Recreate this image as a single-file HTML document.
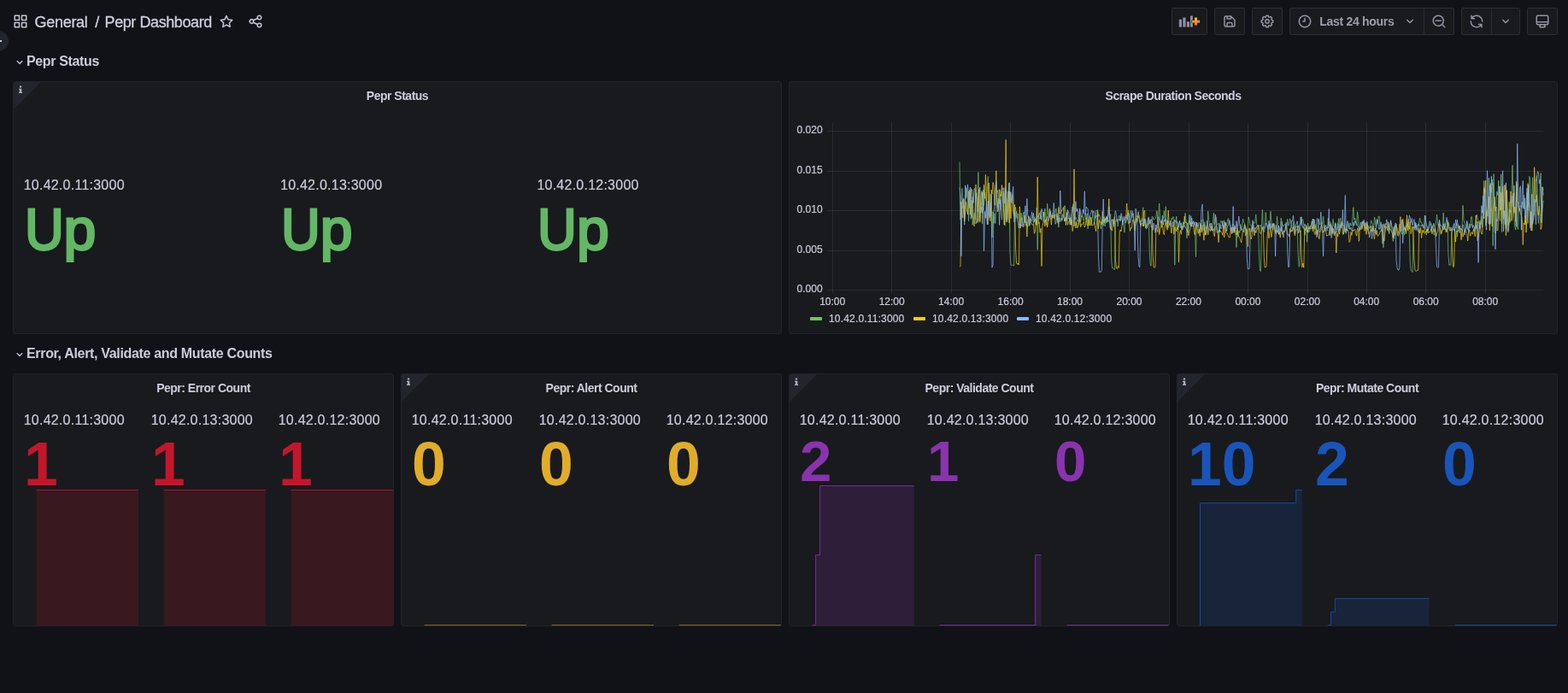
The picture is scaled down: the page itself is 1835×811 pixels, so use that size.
<!DOCTYPE html>
<html><head><meta charset="utf-8"><title>Pepr Dashboard - Grafana</title><style>
html,body{margin:0;padding:0;}
body{background:#111217;width:1835px;height:811px;overflow:hidden;position:relative;font-family:"Liberation Sans",sans-serif;color:#ccccdc;}
.a{position:absolute;white-space:nowrap;line-height:1;}
.panel{position:absolute;background:#181a1e;border:1px solid #222429;border-radius:3px;box-sizing:border-box;overflow:hidden;}
.ptitle{position:absolute;left:0;right:0;top:8px;text-align:center;font-size:14px;font-weight:bold;line-height:16px;color:#ccccdc;letter-spacing:-0.5px;}
.corner{position:absolute;left:0;top:0;width:0;height:0;border-top:32px solid #22252b;border-right:32px solid transparent;}
.ci{position:absolute;left:6px;top:3px;font-family:"Liberation Serif",serif;font-weight:bold;font-size:10px;line-height:10px;color:#b8b8c8;}
.btn{position:absolute;top:9px;height:32px;background:#181a1e;border:1px solid #2a2d33;border-radius:2px;box-sizing:border-box;}
.lbl{position:absolute;font-size:16px;line-height:16px;color:#ccccdc;white-space:nowrap;letter-spacing:0.24px;-webkit-text-stroke:0.2px #ccccdc;}
.val{position:absolute;font-weight:bold;white-space:nowrap;}
.rowt{position:absolute;font-size:16px;font-weight:bold;line-height:18px;color:#ccccdc;white-space:nowrap;letter-spacing:-0.36px;}
.ax{position:absolute;font-size:12px;line-height:12px;color:#ccccdc;white-space:nowrap;-webkit-text-stroke:0.2px #ccccdc;}
svg{position:absolute;overflow:visible;}
</style></head><body><div id="root" style="position:absolute;left:0;top:0;width:1835px;height:811px;will-change:transform;">
<div class="a" style="left:-14px;top:36px;width:24px;height:24px;border-radius:50%;background:#22252b;"></div>
<div class="a" style="left:0;top:46.5px;width:1.5px;height:2px;background:#ccccdc;"></div>
<svg style="left:15px;top:16px" width="18" height="18" viewBox="0 0 24 24"><path fill="#c4c4d4" d="M10,13H3a1,1,0,0,0-1,1v7a1,1,0,0,0,1,1h7a1,1,0,0,0,1-1V14A1,1,0,0,0,10,13ZM9,20H4V15H9ZM21,2H14a1,1,0,0,0-1,1v7a1,1,0,0,0,1,1h7a1,1,0,0,0,1-1V3A1,1,0,0,0,21,2ZM20,9H15V4h5Zm1,4H14a1,1,0,0,0-1,1v7a1,1,0,0,0,1,1h7a1,1,0,0,0,1-1V14A1,1,0,0,0,21,13Zm-1,7H15V15h5ZM10,2H3A1,1,0,0,0,2,3v7a1,1,0,0,0,1,1h7a1,1,0,0,0,1-1V3A1,1,0,0,0,10,2ZM9,9H4V4H9Z"/></svg>
<div class="a" id="t1" style="left:40.6px;top:15.8px;font-size:18px;line-height:21px;color:#cfcfdf;-webkit-text-stroke:0.3px #cfcfdf;letter-spacing:-0.3px;">General</div>
<div class="a" id="t2" style="left:111.2px;top:15.8px;font-size:18px;line-height:21px;color:#cfcfdf;-webkit-text-stroke:0.3px #cfcfdf;">/</div>
<div class="a" id="t3" style="left:122.6px;top:15.8px;font-size:18px;line-height:21px;color:#cfcfdf;-webkit-text-stroke:0.3px #cfcfdf;letter-spacing:-0.42px;">Pepr Dashboard</div>
<svg style="left:256px;top:16px" width="18" height="18" viewBox="0 0 24 24"><path fill="#c4c4d4" d="M22,9.67A1,1,0,0,0,21.14,9l-5.69-.83L12.9,3a1,1,0,0,0-1.8,0L8.55,8.16,2.86,9a1,1,0,0,0-.81.68,1,1,0,0,0,.25,1l4.13,4-1,5.68A1,1,0,0,0,6.9,21.44L12,18.77l5.1,2.67a.93.93,0,0,0,.46.12,1,1,0,0,0,.59-.19,1,1,0,0,0,.4-1l-1-5.68,4.13-4A1,1,0,0,0,22,9.67Zm-6.15,4a1,1,0,0,0-.29.88l.72,4.2-3.76-2a1.06,1.06,0,0,0-.94,0l-3.76,2,.72-4.2a1,1,0,0,0-.29-.88l-3-3,4.21-.61a1,1,0,0,0,.76-.55L12,5.7l1.88,3.82a1,1,0,0,0,.76.55l4.21.61Z"/></svg>
<svg style="left:290.3px;top:16px" width="18" height="18" viewBox="0 0 24 24"><path fill="#c4c4d4" d="M18,14a4,4,0,0,0-3.08,1.48l-5.1-2.35a3.64,3.64,0,0,0,0-2.26l5.1-2.35A4,4,0,1,0,14,6a4.17,4.17,0,0,0,.07.71L8.79,9.14a4,4,0,1,0,0,5.72l5.28,2.43A4.17,4.17,0,0,0,14,18a4,4,0,1,0,4-4ZM18,4a2,2,0,1,1-2,2A2,2,0,0,1,18,4ZM6,14a2,2,0,1,1,2-2A2,2,0,0,1,6,14Zm12,6a2,2,0,1,1,2-2A2,2,0,0,1,18,20Z"/></svg>
<div class="btn" style="left:1371px;width:42px;"></div>
<div class="btn" style="left:1421px;width:36px;"></div>
<div class="btn" style="left:1465px;width:36px;"></div>
<div class="btn" style="left:1509px;width:158px;border-radius:2px 0 0 2px;"></div>
<div class="btn" style="left:1666px;width:36px;border-radius:0 2px 2px 0;"></div>
<div class="btn" style="left:1710px;width:36px;border-radius:2px 0 0 2px;"></div>
<div class="btn" style="left:1745px;width:34px;border-radius:0 2px 2px 0;"></div>
<div class="btn" style="left:1787px;width:36px;"></div>
<svg style="left:1379px;top:17px" width="22" height="16" viewBox="0 0 22 16">
<defs><linearGradient id="pg" x1="0" y1="0" x2="0" y2="1"><stop offset="0" stop-color="#FBC02E"/><stop offset="1" stop-color="#F0642A"/></linearGradient></defs>
<rect x="0.8" y="5.8" width="3.2" height="8.8" fill="#8e8e9e"/><rect x="5.3" y="3.5" width="3.3" height="11.1" fill="#8e8e9e"/>
<rect x="9.9" y="8.3" width="3.1" height="6.3" fill="#8e8e9e"/><rect x="14" y="1.5" width="2.9" height="13.1" fill="#8e8e9e"/>
<path d="M19.1 2.8h3v3.2h3.1v3h-3.1v3.1h-3v-3.1h-3.1v-3h3.1z" transform="translate(-0.1,0.7)" fill="#181a1e" stroke="#181a1e" stroke-width="0.9"/>
<path d="M19.1 2.8h3v3.2h3.1v3h-3.1v3.1h-3v-3.1h-3.1v-3h3.1z" transform="translate(-0.1,0.7)" fill="url(#pg)"/>
</svg>
<svg style="left:1430px;top:16px" width="18" height="18" viewBox="0 0 24 24"><path fill="#9394a3" d="M20.71,9.29l-6-6a1,1,0,0,0-.32-.21A1.09,1.09,0,0,0,14,3H6A3,3,0,0,0,3,6V18a3,3,0,0,0,3,3H18a3,3,0,0,0,3-3V10A1,1,0,0,0,20.71,9.29ZM9,5h4V7H9Zm6,14H9V16a1,1,0,0,1,1-1h4a1,1,0,0,1,1,1Zm4-1a1,1,0,0,1-1,1H17V16a3,3,0,0,0-3-3H10a3,3,0,0,0-3,3v3H6a1,1,0,0,1-1-1V6A1,1,0,0,1,6,5H7V8A1,1,0,0,0,8,9h6a1,1,0,0,0,1-1V6.41l4,4Z"/></svg>
<svg style="left:1474px;top:16px" width="18" height="18" viewBox="0 0 24 24"><path fill="#9394a3" d="M21.32,9.55l-1.89-.63.89-1.78A1,1,0,0,0,20.13,6L18,3.87a1,1,0,0,0-1.15-.19l-1.78.89-.63-1.89A1,1,0,0,0,13.5,2h-3a1,1,0,0,0-.95.68L8.92,4.57,7.14,3.68A1,1,0,0,0,6,3.87L3.87,6a1,1,0,0,0-.19,1.15l.89,1.78-1.89.63A1,1,0,0,0,2,10.5v3a1,1,0,0,0,.68.95l1.89.63-.89,1.78A1,1,0,0,0,3.87,18L6,20.13a1,1,0,0,0,1.15.19l1.78-.89.63,1.89a1,1,0,0,0,.95.68h3a1,1,0,0,0,.95-.68l.63-1.89,1.78.89A1,1,0,0,0,18,20.13L20.13,18a1,1,0,0,0,.19-1.15l-.89-1.78,1.89-.63A1,1,0,0,0,22,13.5v-3A1,1,0,0,0,21.32,9.55ZM20,12.78l-1.2.4A2,2,0,0,0,17.64,16l.57,1.14-1.1,1.1L16,17.64a2,2,0,0,0-2.79,1.16l-.4,1.2H11.22l-.4-1.2A2,2,0,0,0,8,17.64l-1.14.57-1.1-1.1L6.36,16A2,2,0,0,0,5.2,13.18L4,12.78V11.22l1.2-.4A2,2,0,0,0,6.36,8L5.79,6.89l1.1-1.1L8,6.36A2,2,0,0,0,10.82,5.2l.4-1.2h1.56l.4,1.2A2,2,0,0,0,16,6.36l1.14-.57,1.1,1.1L17.64,8a2,2,0,0,0,1.16,2.79l1.2.4ZM12,8a4,4,0,1,0,4,4A4,4,0,0,0,12,8Zm0,6a2,2,0,1,1,2-2A2,2,0,0,1,12,14Z"/></svg>
<svg style="left:1518px;top:16px" width="18" height="18" viewBox="0 0 24 24"><path fill="#9394a3" d="M12,2A10,10,0,1,0,22,12,10.01,10.01,0,0,0,12,2Zm0,18a8,8,0,1,1,8-8A8.01,8.01,0,0,1,12,20ZM12,6a1,1,0,0,0-1,1v4H9a1,1,0,0,0,0,2h3a1,1,0,0,0,1-1V7A1,1,0,0,0,12,6Z"/></svg>
<div class="a" id="tp" style="left:1544.3px;top:17.2px;font-size:14px;line-height:16px;font-weight:bold;color:#9b9cab;letter-spacing:-0.3px;">Last 24 hours</div>
<svg style="left:1641.2px;top:16.2px" width="18" height="18" viewBox="0 0 24 24"><path fill="#9394a3" d="M17,9.17a1,1,0,0,0-1.41,0L12,12.71,8.46,9.17a1,1,0,0,0-1.41,0,1,1,0,0,0,0,1.42l4.24,4.24a1,1,0,0,0,1.42,0L17,10.59A1,1,0,0,0,17,9.17Z"/></svg>
<svg style="left:1675px;top:16px" width="18" height="18" viewBox="0 0 24 24"><path fill="#9394a3" d="M21.71,20.29,18,16.61A9,9,0,1,0,16.61,18l3.68,3.68a1,1,0,0,0,1.42,0A1,1,0,0,0,21.71,20.29ZM11,18a7,7,0,1,1,7-7A7,7,0,0,1,11,18Zm4-8H7a1,1,0,0,0,0,2h8a1,1,0,0,0,0-2Z"/></svg>
<svg style="left:1718.9px;top:16px" width="18" height="18" viewBox="0 0 24 24"><path fill="#9394a3" d="M19.91,15.51H15.38a1,1,0,0,0,0,2h2.4A8,8,0,0,1,4,12a1,1,0,0,0-2,0,10,10,0,0,0,16.88,7.23V21a1,1,0,0,0,2,0V16.5A1,1,0,0,0,19.91,15.51ZM12,2A10,10,0,0,0,5.12,4.77V3a1,1,0,0,0-2,0V7.5a1,1,0,0,0,1,1h4.5a1,1,0,0,0,0-2H6.22A8,8,0,0,1,20,12a1,1,0,0,0,2,0A10,10,0,0,0,12,2Z"/></svg>
<svg style="left:1753px;top:16.2px" width="18" height="18" viewBox="0 0 24 24"><path fill="#9394a3" d="M17,9.17a1,1,0,0,0-1.41,0L12,12.71,8.46,9.17a1,1,0,0,0-1.41,0,1,1,0,0,0,0,1.42l4.24,4.24a1,1,0,0,0,1.42,0L17,10.59A1,1,0,0,0,17,9.17Z"/></svg>
<svg style="left:1796px;top:16px" width="18" height="18" viewBox="0 0 24 24"><path fill="#9394a3" d="M19,2H5A3,3,0,0,0,2,5V15a3,3,0,0,0,3,3H7.64l-.58,1a2,2,0,0,0,0,2,2,2,0,0,0,1.75,1h6.46A2,2,0,0,0,17,21a2,2,0,0,0,0-2l-.59-1H19a3,3,0,0,0,3-3V5A3,3,0,0,0,19,2ZM8.77,20,10,18H14l1.2,2ZM20,15a1,1,0,0,1-1,1H5a1,1,0,0,1-1-1V14H20Zm0-3H4V5A1,1,0,0,1,5,4H19a1,1,0,0,1,1,1Z"/></svg>
<svg style="left:15px;top:65px" width="16" height="16" viewBox="0 0 24 24"><path fill="#c4c4d4" d="M17,9.17a1,1,0,0,0-1.41,0L12,12.71,8.46,9.17a1,1,0,0,0-1.41,0,1,1,0,0,0,0,1.42l4.24,4.24a1,1,0,0,0,1.42,0L17,10.59A1,1,0,0,0,17,9.17Z"/></svg>
<div class="rowt" id="r1" style="left:31px;top:63.3px;">Pepr Status</div>
<svg style="left:15px;top:407px" width="16" height="16" viewBox="0 0 24 24"><path fill="#c4c4d4" d="M17,9.17a1,1,0,0,0-1.41,0L12,12.71,8.46,9.17a1,1,0,0,0-1.41,0,1,1,0,0,0,0,1.42l4.24,4.24a1,1,0,0,0,1.42,0L17,10.59A1,1,0,0,0,17,9.17Z"/></svg>
<div class="rowt" id="r2" style="left:31px;top:405.3px;letter-spacing:-0.33px;">Error, Alert, Validate and Mutate Counts</div>
<div class="panel" style="left:15px;top:95px;width:900px;height:296px;"><div class="corner"></div><svg style="left:4px;top:4px" width="8" height="11" viewBox="0 0 8 11"><path fill="#aeaebe" d="M2.9,0.6h2.3v2h-2.3z M2,3.8h3.3v3.9h0.8v1.3h-4.2v-1.3h1.0v-2.7h-0.9z"/></svg><div class="ptitle">Pepr Status</div></div>
<div class="panel" style="left:923px;top:95px;width:900px;height:296px;"><div class="ptitle">Scrape Duration Seconds</div></div>
<div class="panel" style="left:15px;top:437px;width:446px;height:296px;"><div class="ptitle">Pepr: Error Count</div></div>
<div class="panel" style="left:469px;top:437px;width:446px;height:296px;"><div class="corner"></div><svg style="left:4px;top:4px" width="8" height="11" viewBox="0 0 8 11"><path fill="#aeaebe" d="M2.9,0.6h2.3v2h-2.3z M2,3.8h3.3v3.9h0.8v1.3h-4.2v-1.3h1.0v-2.7h-0.9z"/></svg><div class="ptitle">Pepr: Alert Count</div></div>
<div class="panel" style="left:923px;top:437px;width:446px;height:296px;"><div class="corner"></div><svg style="left:4px;top:4px" width="8" height="11" viewBox="0 0 8 11"><path fill="#aeaebe" d="M2.9,0.6h2.3v2h-2.3z M2,3.8h3.3v3.9h0.8v1.3h-4.2v-1.3h1.0v-2.7h-0.9z"/></svg><div class="ptitle">Pepr: Validate Count</div></div>
<div class="panel" style="left:1377px;top:437px;width:446px;height:296px;"><div class="corner"></div><svg style="left:4px;top:4px" width="8" height="11" viewBox="0 0 8 11"><path fill="#aeaebe" d="M2.9,0.6h2.3v2h-2.3z M2,3.8h3.3v3.9h0.8v1.3h-4.2v-1.3h1.0v-2.7h-0.9z"/></svg><div class="ptitle">Pepr: Mutate Count</div></div>
<div class="lbl" style="left:27.7px;top:209px;">10.42.0.11:3000</div>
<div class="a" style="left:28.60px;top:227.7px;font-size:68px;line-height:80px;font-weight:normal;color:#63b765;-webkit-text-stroke:2.8px #63b765;"><span style="display:inline-block;transform:scaleX(0.933);transform-origin:0 0;">U</span></div>
<div class="a" style="left:74.40px;top:228px;height:79.3px;overflow:hidden;padding:0 4px;margin-left:-4px;font-size:68px;line-height:80px;font-weight:normal;color:#63b765;-webkit-text-stroke:2.8px #63b765;">p</div>
<div class="lbl" style="left:328.0px;top:209px;">10.42.0.13:3000</div>
<div class="a" style="left:328.93px;top:227.7px;font-size:68px;line-height:80px;font-weight:normal;color:#63b765;-webkit-text-stroke:2.8px #63b765;"><span style="display:inline-block;transform:scaleX(0.933);transform-origin:0 0;">U</span></div>
<div class="a" style="left:374.73px;top:228px;height:79.3px;overflow:hidden;padding:0 4px;margin-left:-4px;font-size:68px;line-height:80px;font-weight:normal;color:#63b765;-webkit-text-stroke:2.8px #63b765;">p</div>
<div class="lbl" style="left:628.4px;top:209px;">10.42.0.12:3000</div>
<div class="a" style="left:629.26px;top:227.7px;font-size:68px;line-height:80px;font-weight:normal;color:#63b765;-webkit-text-stroke:2.8px #63b765;"><span style="display:inline-block;transform:scaleX(0.933);transform-origin:0 0;">U</span></div>
<div class="a" style="left:675.06px;top:228px;height:79.3px;overflow:hidden;padding:0 4px;margin-left:-4px;font-size:68px;line-height:80px;font-weight:normal;color:#63b765;-webkit-text-stroke:2.8px #63b765;">p</div>
<svg style="left:0;top:0" width="1835" height="811" viewBox="0 0 1835 811"><line x1="974.5" y1="144" x2="974.5" y2="343" stroke="rgba(204,204,220,0.1)" stroke-width="1"/>
<line x1="1043.5" y1="144" x2="1043.5" y2="343" stroke="rgba(204,204,220,0.1)" stroke-width="1"/>
<line x1="1113.5" y1="144" x2="1113.5" y2="343" stroke="rgba(204,204,220,0.1)" stroke-width="1"/>
<line x1="1182.5" y1="144" x2="1182.5" y2="343" stroke="rgba(204,204,220,0.1)" stroke-width="1"/>
<line x1="1252.5" y1="144" x2="1252.5" y2="343" stroke="rgba(204,204,220,0.1)" stroke-width="1"/>
<line x1="1321.5" y1="144" x2="1321.5" y2="343" stroke="rgba(204,204,220,0.1)" stroke-width="1"/>
<line x1="1391.5" y1="144" x2="1391.5" y2="343" stroke="rgba(204,204,220,0.1)" stroke-width="1"/>
<line x1="1460.5" y1="144" x2="1460.5" y2="343" stroke="rgba(204,204,220,0.1)" stroke-width="1"/>
<line x1="1530.5" y1="144" x2="1530.5" y2="343" stroke="rgba(204,204,220,0.1)" stroke-width="1"/>
<line x1="1599.5" y1="144" x2="1599.5" y2="343" stroke="rgba(204,204,220,0.1)" stroke-width="1"/>
<line x1="1668.5" y1="144" x2="1668.5" y2="343" stroke="rgba(204,204,220,0.1)" stroke-width="1"/>
<line x1="1738.5" y1="144" x2="1738.5" y2="343" stroke="rgba(204,204,220,0.1)" stroke-width="1"/>
<line x1="968" y1="153.5" x2="1806" y2="153.5" stroke="rgba(204,204,220,0.1)" stroke-width="1"/>
<line x1="968" y1="200.5" x2="1806" y2="200.5" stroke="rgba(204,204,220,0.1)" stroke-width="1"/>
<line x1="968" y1="246.5" x2="1806" y2="246.5" stroke="rgba(204,204,220,0.1)" stroke-width="1"/>
<line x1="968" y1="293.5" x2="1806" y2="293.5" stroke="rgba(204,204,220,0.1)" stroke-width="1"/>
<line x1="968" y1="339.5" x2="1806" y2="339.5" stroke="rgba(204,204,220,0.1)" stroke-width="1"/>
<path d="M1123.0 189.5 L1124.0 256.8 L1124.9 241.9 L1125.9 220.6 L1126.8 244.0 L1127.8 240.9 L1128.7 263.1 L1129.7 240.9 L1130.6 219.6 L1131.6 223.9 L1132.5 229.6 L1133.5 258.8 L1134.4 222.0 L1135.4 223.7 L1136.3 256.2 L1137.3 234.3 L1138.2 263.1 L1139.2 258.6 L1140.1 249.2 L1141.1 256.7 L1142.0 228.5 L1143.0 225.8 L1143.9 248.0 L1144.9 201.6 L1145.8 259.0 L1146.8 260.4 L1147.7 230.9 L1148.7 223.3 L1149.6 261.8 L1150.6 241.9 L1151.5 240.2 L1152.5 224.7 L1153.4 230.8 L1154.4 236.3 L1155.3 225.0 L1156.3 206.4 L1157.2 225.1 L1158.2 248.8 L1159.1 253.4 L1160.1 227.3 L1161.0 278.0 L1162.0 247.7 L1162.9 261.5 L1163.9 249.8 L1164.8 261.5 L1165.8 243.8 L1166.7 227.8 L1167.7 222.5 L1168.6 227.8 L1169.6 238.6 L1170.5 227.2 L1171.5 248.1 L1172.4 257.2 L1173.4 244.6 L1174.3 224.5 L1175.3 262.2 L1176.2 264.2 L1177.2 221.4 L1178.1 257.3 L1179.1 232.4 L1180.0 230.9 L1181.0 214.4 L1181.9 292.6 L1182.9 310.1 L1183.8 310.9 L1184.8 309.7 L1185.7 310.5 L1186.7 311.1 L1187.6 247.5 L1188.6 242.5 L1189.5 253.8 L1190.5 255.5 L1191.4 249.8 L1192.4 258.8 L1193.3 263.2 L1194.3 258.5 L1195.2 249.1 L1196.2 264.9 L1197.1 251.7 L1198.1 247.9 L1199.0 259.6 L1200.0 258.7 L1200.9 259.1 L1201.9 265.7 L1202.8 265.1 L1203.8 253.6 L1204.7 263.4 L1205.7 256.0 L1206.6 257.9 L1207.6 258.9 L1208.5 253.5 L1209.5 261.7 L1210.4 253.7 L1211.4 256.5 L1212.3 262.7 L1213.3 243.1 L1214.2 292.4 L1215.2 252.3 L1216.1 255.7 L1217.1 256.2 L1218.0 246.6 L1219.0 257.7 L1219.9 253.4 L1220.9 248.1 L1221.8 253.9 L1222.8 244.0 L1223.7 253.3 L1224.7 263.5 L1225.6 238.3 L1226.6 248.2 L1227.5 255.1 L1228.5 252.4 L1229.4 247.2 L1230.4 256.7 L1231.3 252.9 L1232.3 248.5 L1233.2 252.1 L1234.2 252.1 L1235.1 246.3 L1236.1 244.1 L1237.0 257.0 L1238.0 256.6 L1238.9 266.1 L1239.9 254.6 L1240.8 259.6 L1241.8 254.9 L1242.7 258.6 L1243.7 250.6 L1244.6 254.0 L1245.6 240.9 L1246.5 240.9 L1247.5 259.2 L1248.4 250.0 L1249.4 247.9 L1250.3 247.2 L1251.3 251.2 L1252.2 260.1 L1253.2 253.9 L1254.1 263.4 L1255.1 244.0 L1256.0 238.9 L1257.0 244.9 L1257.9 257.0 L1258.9 254.4 L1259.8 255.1 L1260.8 258.9 L1261.7 257.7 L1262.7 263.3 L1263.6 255.8 L1264.6 259.6 L1265.5 255.0 L1266.5 252.6 L1267.4 255.5 L1268.4 258.8 L1269.3 251.4 L1270.3 249.8 L1271.2 256.4 L1272.2 249.8 L1273.1 267.9 L1274.1 257.5 L1275.0 253.3 L1276.0 254.9 L1276.9 264.1 L1277.9 257.6 L1278.8 250.9 L1279.8 252.7 L1280.7 261.7 L1281.7 256.7 L1282.6 246.5 L1283.6 246.5 L1284.5 245.3 L1285.5 253.2 L1286.4 250.9 L1287.4 254.4 L1288.3 268.0 L1289.3 261.1 L1290.2 256.8 L1291.2 264.2 L1292.1 253.6 L1293.1 264.8 L1294.0 254.9 L1295.0 261.3 L1295.9 254.4 L1296.9 259.7 L1297.8 257.9 L1298.8 255.2 L1299.7 250.4 L1300.7 303.7 L1301.6 313.9 L1302.6 313.6 L1303.5 315.1 L1304.5 315.5 L1305.4 260.3 L1306.4 256.8 L1307.3 256.2 L1308.3 264.9 L1309.2 252.6 L1310.2 252.3 L1311.1 258.6 L1312.1 252.2 L1313.0 256.7 L1314.0 259.7 L1314.9 264.3 L1315.9 272.1 L1316.8 259.2 L1317.8 251.7 L1318.7 252.4 L1319.7 252.6 L1320.6 246.0 L1321.6 261.7 L1322.5 254.5 L1323.5 246.2 L1324.4 254.9 L1325.4 246.7 L1326.3 255.9 L1327.3 259.5 L1328.2 267.2 L1329.2 256.6 L1330.1 252.6 L1331.1 252.9 L1332.0 254.8 L1333.0 252.7 L1333.9 256.7 L1334.9 265.4 L1335.8 257.6 L1336.8 254.4 L1337.7 242.7 L1338.7 263.8 L1339.6 256.1 L1340.6 265.6 L1341.5 268.2 L1342.5 265.8 L1343.4 259.5 L1344.4 255.5 L1345.3 296.0 L1346.3 310.4 L1347.2 311.2 L1348.2 253.2 L1349.1 253.7 L1350.1 257.1 L1351.0 256.8 L1352.0 255.7 L1352.9 254.0 L1353.9 246.6 L1354.8 258.7 L1355.8 251.0 L1356.7 238.0 L1357.7 258.4 L1358.6 258.8 L1359.6 266.4 L1360.5 256.1 L1361.5 255.1 L1362.4 246.7 L1363.4 259.9 L1364.3 241.7 L1365.3 266.2 L1366.2 257.9 L1367.2 266.7 L1368.1 261.7 L1369.1 262.5 L1370.0 260.7 L1371.0 255.0 L1371.9 256.8 L1372.9 253.5 L1373.8 255.6 L1374.8 310.1 L1375.7 267.6 L1376.7 253.1 L1377.6 268.6 L1378.6 269.0 L1379.5 261.8 L1380.5 259.3 L1381.4 266.7 L1382.4 260.9 L1383.3 268.4 L1384.3 260.4 L1385.2 259.9 L1386.2 261.8 L1387.1 249.4 L1388.1 259.7 L1389.0 278.7 L1390.0 261.6 L1390.9 261.3 L1391.9 258.1 L1392.8 262.9 L1393.8 252.6 L1394.7 263.9 L1395.7 261.5 L1396.6 258.8 L1397.6 264.9 L1398.5 266.9 L1399.5 300.6 L1400.4 260.3 L1401.4 261.3 L1402.3 262.4 L1403.3 260.3 L1404.2 261.2 L1405.2 267.9 L1406.1 258.7 L1407.1 256.7 L1408.0 257.2 L1409.0 270.0 L1409.9 259.7 L1410.9 267.9 L1411.8 264.9 L1412.8 265.0 L1413.7 247.0 L1414.7 257.7 L1415.6 262.4 L1416.6 261.4 L1417.5 266.1 L1418.5 269.5 L1419.4 262.4 L1420.4 248.9 L1421.3 262.8 L1422.3 256.5 L1423.2 253.8 L1424.2 263.4 L1425.1 262.6 L1426.1 261.2 L1427.0 271.9 L1428.0 260.5 L1428.9 258.4 L1429.9 260.6 L1430.8 263.1 L1431.8 265.3 L1432.7 257.8 L1433.7 265.1 L1434.6 262.2 L1435.6 263.7 L1436.5 257.8 L1437.5 255.5 L1438.4 261.1 L1439.4 263.0 L1440.3 269.2 L1441.3 270.0 L1442.2 263.8 L1443.2 261.9 L1444.1 263.3 L1445.1 269.4 L1446.0 269.8 L1447.0 289.6 L1447.9 268.8 L1448.9 277.3 L1449.8 270.2 L1450.8 272.4 L1451.7 262.5 L1452.7 270.0 L1453.6 263.6 L1454.6 256.1 L1455.5 259.8 L1456.5 261.4 L1457.4 276.0 L1458.4 268.2 L1459.3 273.9 L1460.3 264.8 L1461.2 253.9 L1462.2 258.4 L1463.1 263.5 L1464.1 263.5 L1465.0 269.0 L1466.0 264.4 L1466.9 259.6 L1467.9 261.7 L1468.8 260.8 L1469.8 251.2 L1470.7 262.7 L1471.7 264.0 L1472.6 268.9 L1473.6 301.0 L1474.5 316.6 L1475.5 317.5 L1476.4 265.1 L1477.4 245.4 L1478.3 263.8 L1479.3 267.2 L1480.2 266.6 L1481.2 248.5 L1482.1 259.6 L1483.1 266.3 L1484.0 267.2 L1485.0 262.2 L1485.9 265.7 L1486.9 247.3 L1487.8 258.7 L1488.8 263.1 L1489.7 269.5 L1490.7 262.4 L1491.6 263.5 L1492.6 271.6 L1493.5 270.8 L1494.5 253.1 L1495.4 262.7 L1496.4 273.6 L1497.3 267.9 L1498.3 265.3 L1499.2 255.1 L1500.2 261.6 L1501.1 263.4 L1502.1 265.1 L1503.0 263.8 L1504.0 262.2 L1504.9 265.6 L1505.9 263.3 L1506.8 256.3 L1507.8 264.3 L1508.7 262.2 L1509.7 255.8 L1510.6 259.9 L1511.6 265.7 L1512.5 268.4 L1513.5 262.2 L1514.4 259.4 L1515.4 273.5 L1516.3 264.5 L1517.3 265.4 L1518.2 264.4 L1519.2 298.5 L1520.1 312.3 L1521.1 311.2 L1522.0 254.0 L1523.0 263.6 L1523.9 257.0 L1524.9 256.9 L1525.8 263.2 L1526.8 275.2 L1527.7 272.0 L1528.7 263.4 L1529.6 283.3 L1530.6 261.0 L1531.5 268.0 L1532.5 264.7 L1533.4 268.1 L1534.4 267.8 L1535.3 264.9 L1536.3 270.7 L1537.2 256.0 L1538.2 268.4 L1539.1 262.7 L1540.1 269.3 L1541.0 256.8 L1542.0 255.3 L1542.9 262.2 L1543.9 271.9 L1544.8 269.4 L1545.8 264.8 L1546.7 262.4 L1547.7 261.5 L1548.6 253.2 L1549.6 264.4 L1550.5 270.4 L1551.5 270.8 L1552.4 268.4 L1553.4 269.7 L1554.3 255.4 L1555.3 264.7 L1556.2 259.4 L1557.2 260.3 L1558.1 267.7 L1559.1 271.9 L1560.0 256.4 L1561.0 264.5 L1561.9 266.5 L1562.9 260.5 L1563.8 266.9 L1564.8 268.5 L1565.7 264.7 L1566.7 255.8 L1567.6 269.7 L1568.6 255.1 L1569.5 264.5 L1570.5 259.7 L1571.4 261.4 L1572.4 264.7 L1573.3 263.4 L1574.3 269.1 L1575.2 268.0 L1576.2 270.6 L1577.1 262.5 L1578.1 261.4 L1579.0 268.0 L1580.0 260.7 L1580.9 263.8 L1581.9 263.9 L1582.8 255.4 L1583.8 242.6 L1584.7 257.3 L1585.7 255.0 L1586.6 260.0 L1587.6 264.0 L1588.5 247.8 L1589.5 254.0 L1590.4 267.9 L1591.4 268.6 L1592.3 268.4 L1593.3 268.5 L1594.2 258.8 L1595.2 263.7 L1596.1 264.6 L1597.1 262.6 L1598.0 260.4 L1599.0 262.6 L1599.9 261.5 L1600.9 269.3 L1601.8 264.4 L1602.8 267.4 L1603.7 264.6 L1604.7 257.9 L1605.6 260.4 L1606.6 263.2 L1607.5 269.0 L1608.5 254.0 L1609.4 258.5 L1610.4 265.7 L1611.3 257.5 L1612.3 261.9 L1613.2 253.1 L1614.2 253.0 L1615.1 266.8 L1616.1 267.7 L1617.0 270.7 L1618.0 270.9 L1618.9 289.8 L1619.9 276.2 L1620.8 265.2 L1621.8 261.4 L1622.7 261.1 L1623.7 264.5 L1624.6 270.6 L1625.6 266.9 L1626.5 262.9 L1627.5 258.7 L1628.4 263.3 L1629.4 273.9 L1630.3 282.4 L1631.3 272.1 L1632.2 264.4 L1633.2 263.8 L1634.1 264.8 L1635.1 266.7 L1636.0 274.6 L1637.0 269.5 L1637.9 262.2 L1638.9 269.9 L1639.8 271.2 L1640.8 273.9 L1641.7 270.2 L1642.7 265.9 L1643.6 274.7 L1644.6 266.8 L1645.5 271.1 L1646.5 257.4 L1647.4 265.8 L1648.4 264.5 L1649.3 273.9 L1650.3 307.1 L1651.2 316.5 L1652.2 317.4 L1653.1 318.7 L1654.1 265.1 L1655.0 267.7 L1656.0 259.8 L1656.9 266.6 L1657.9 263.3 L1658.8 268.3 L1659.8 271.6 L1660.7 260.3 L1661.7 255.0 L1662.6 260.4 L1663.6 260.2 L1664.5 264.0 L1665.5 263.2 L1666.4 267.4 L1667.4 268.5 L1668.3 252.5 L1669.3 275.1 L1670.2 268.5 L1671.2 271.2 L1672.1 267.4 L1673.1 263.6 L1674.0 261.4 L1675.0 261.9 L1675.9 268.1 L1676.9 263.5 L1677.8 274.4 L1678.8 274.9 L1679.7 265.6 L1680.7 258.2 L1681.6 251.2 L1682.6 262.0 L1683.5 264.0 L1684.5 257.9 L1685.4 266.3 L1686.4 273.3 L1687.3 271.3 L1688.3 266.9 L1689.2 249.0 L1690.2 268.4 L1691.1 261.4 L1692.1 271.8 L1693.0 266.4 L1694.0 257.8 L1694.9 297.5 L1695.9 310.4 L1696.8 309.3 L1697.8 310.4 L1698.7 274.1 L1699.7 269.7 L1700.6 265.5 L1701.6 269.9 L1702.5 267.6 L1703.5 266.7 L1704.4 262.4 L1705.4 277.2 L1706.3 262.7 L1707.3 265.8 L1708.2 265.3 L1709.2 268.4 L1710.1 266.6 L1711.1 265.2 L1712.0 240.3 L1713.0 257.7 L1713.9 261.3 L1714.9 263.4 L1715.8 268.0 L1716.8 260.5 L1717.7 269.1 L1718.7 269.2 L1719.6 261.8 L1720.6 266.6 L1721.5 254.1 L1722.5 253.2 L1723.4 266.3 L1724.4 266.5 L1725.3 271.0 L1726.3 265.3 L1727.2 259.7 L1728.2 251.1 L1729.1 254.8 L1730.1 259.1 L1731.0 262.7 L1732.0 258.1 L1732.9 262.6 L1733.9 253.2 L1734.8 266.3 L1735.8 241.1 L1736.7 211.5 L1737.7 236.6 L1738.6 264.2 L1739.6 247.9 L1740.5 252.7 L1741.5 252.9 L1742.4 208.2 L1743.4 219.4 L1744.3 222.6 L1745.3 225.5 L1746.2 209.9 L1747.2 287.6 L1748.1 203.5 L1749.1 270.5 L1750.0 272.8 L1751.0 234.7 L1751.9 224.1 L1752.9 228.6 L1753.8 211.2 L1754.8 255.9 L1755.7 258.4 L1756.7 203.9 L1757.6 271.6 L1758.6 217.6 L1759.5 245.5 L1760.5 250.3 L1761.4 260.0 L1762.4 268.2 L1763.3 222.4 L1764.3 269.8 L1765.2 269.9 L1766.2 236.2 L1767.1 260.5 L1768.1 253.0 L1769.0 226.0 L1770.0 193.3 L1770.9 229.4 L1771.9 256.2 L1772.8 265.2 L1773.8 269.0 L1774.7 214.9 L1775.7 265.8 L1776.6 268.4 L1777.6 241.8 L1778.5 241.8 L1779.5 240.7 L1780.4 243.5 L1781.4 235.9 L1782.3 243.3 L1783.3 228.5 L1784.2 236.9 L1785.2 262.5 L1786.1 253.0 L1787.1 225.6 L1788.0 246.2 L1789.0 232.5 L1789.9 206.3 L1790.9 211.5 L1791.8 231.2 L1792.8 263.5 L1793.7 207.5 L1794.7 234.8 L1795.6 252.3 L1796.6 213.2 L1797.5 211.2 L1798.5 205.7 L1799.4 239.4 L1800.4 261.4 L1801.3 244.0 L1802.3 215.1 L1803.2 202.6 L1804.2 261.0 L1805.1 245.2 L1806.1 234.7" fill="none" stroke="#73BF69" stroke-width="0.8" stroke-opacity="0.9" stroke-linejoin="round"/>
<path d="M1123.0 312.0 L1124.0 311.7 L1124.9 236.4 L1125.9 251.9 L1126.8 254.8 L1127.8 233.6 L1128.7 257.4 L1129.7 246.9 L1130.6 236.3 L1131.6 247.3 L1132.5 250.9 L1133.5 223.9 L1134.4 223.9 L1135.4 251.4 L1136.3 221.0 L1137.3 221.8 L1138.2 225.9 L1139.2 262.5 L1140.1 264.7 L1141.1 252.1 L1142.0 216.1 L1143.0 236.3 L1143.9 260.6 L1144.9 254.6 L1145.8 221.6 L1146.8 259.2 L1147.7 246.1 L1148.7 236.8 L1149.6 225.1 L1150.6 245.8 L1151.5 216.4 L1152.5 232.3 L1153.4 204.4 L1154.4 223.8 L1155.3 260.0 L1156.3 262.5 L1157.2 214.1 L1158.2 256.6 L1159.1 258.6 L1160.1 222.2 L1161.0 227.1 L1162.0 213.5 L1162.9 216.5 L1163.9 240.2 L1164.8 239.8 L1165.8 199.8 L1166.7 234.7 L1167.7 247.9 L1168.6 243.8 L1169.6 221.7 L1170.5 224.3 L1171.5 229.6 L1172.4 216.6 L1173.4 227.8 L1174.3 241.0 L1175.3 263.0 L1176.2 243.1 L1177.2 163.5 L1178.1 259.9 L1179.1 256.0 L1180.0 223.8 L1181.0 260.8 L1181.9 223.9 L1182.9 255.9 L1183.8 239.8 L1184.8 227.7 L1185.7 247.6 L1186.7 252.9 L1187.6 239.5 L1188.6 290.9 L1189.5 308.0 L1190.5 309.4 L1191.4 308.0 L1192.4 310.1 L1193.3 241.8 L1194.3 265.5 L1195.2 263.6 L1196.2 264.5 L1197.1 265.5 L1198.1 265.4 L1199.0 252.1 L1200.0 260.9 L1200.9 259.4 L1201.9 277.0 L1202.8 259.7 L1203.8 252.7 L1204.7 254.4 L1205.7 258.0 L1206.6 261.2 L1207.6 261.9 L1208.5 263.5 L1209.5 262.2 L1210.4 273.4 L1211.4 271.1 L1212.3 258.4 L1213.3 263.8 L1214.2 207.2 L1215.2 261.8 L1216.1 259.9 L1217.1 272.2 L1218.0 267.3 L1219.0 311.5 L1219.9 265.3 L1220.9 260.3 L1221.8 248.2 L1222.8 264.7 L1223.7 257.8 L1224.7 256.1 L1225.6 266.0 L1226.6 260.7 L1227.5 255.7 L1228.5 244.1 L1229.4 254.9 L1230.4 263.1 L1231.3 251.6 L1232.3 255.2 L1233.2 252.1 L1234.2 256.1 L1235.1 252.8 L1236.1 250.9 L1237.0 249.8 L1238.0 261.3 L1238.9 242.4 L1239.9 249.6 L1240.8 249.5 L1241.8 248.2 L1242.7 245.4 L1243.7 244.8 L1244.6 242.5 L1245.6 259.0 L1246.5 255.6 L1247.5 263.5 L1248.4 248.8 L1249.4 263.3 L1250.3 259.5 L1251.3 258.9 L1252.2 255.4 L1253.2 263.2 L1254.1 257.0 L1255.1 270.6 L1256.0 265.4 L1257.0 197.9 L1257.9 257.3 L1258.9 266.8 L1259.8 259.5 L1260.8 266.9 L1261.7 265.3 L1262.7 259.8 L1263.6 246.1 L1264.6 265.8 L1265.5 262.6 L1266.5 263.0 L1267.4 260.9 L1268.4 259.6 L1269.3 266.0 L1270.3 263.5 L1271.2 254.8 L1272.2 263.2 L1273.1 264.0 L1274.1 257.1 L1275.0 264.0 L1276.0 257.6 L1276.9 254.3 L1277.9 263.4 L1278.8 263.5 L1279.8 263.2 L1280.7 260.0 L1281.7 266.5 L1282.6 270.7 L1283.6 259.5 L1284.5 246.9 L1285.5 267.6 L1286.4 257.9 L1287.4 258.8 L1288.3 260.1 L1289.3 262.9 L1290.2 247.6 L1291.2 256.2 L1292.1 260.6 L1293.1 255.9 L1294.0 257.3 L1295.0 254.6 L1295.9 254.5 L1296.9 250.7 L1297.8 232.7 L1298.8 260.0 L1299.7 261.5 L1300.7 269.2 L1301.6 269.9 L1302.6 256.6 L1303.5 262.2 L1304.5 253.2 L1305.4 303.7 L1306.4 313.7 L1307.3 314.7 L1308.3 311.5 L1309.2 313.4 L1310.2 270.9 L1311.1 268.9 L1312.1 271.0 L1313.0 263.1 L1314.0 258.2 L1314.9 258.5 L1315.9 255.9 L1316.8 255.7 L1317.8 253.0 L1318.7 238.0 L1319.7 255.0 L1320.6 261.5 L1321.6 261.8 L1322.5 270.3 L1323.5 266.6 L1324.4 267.2 L1325.4 257.2 L1326.3 258.0 L1327.3 260.0 L1328.2 269.9 L1329.2 255.9 L1330.1 255.3 L1331.1 259.5 L1332.0 247.8 L1333.0 253.3 L1333.9 260.8 L1334.9 263.5 L1335.8 262.1 L1336.8 261.1 L1337.7 265.0 L1338.7 247.7 L1339.6 246.2 L1340.6 266.8 L1341.5 265.5 L1342.5 263.3 L1343.4 262.7 L1344.4 262.2 L1345.3 260.3 L1346.3 256.8 L1347.2 265.7 L1348.2 264.0 L1349.1 298.0 L1350.1 312.7 L1351.0 313.3 L1352.0 312.6 L1352.9 266.9 L1353.9 268.9 L1354.8 271.7 L1355.8 258.2 L1356.7 274.5 L1357.7 267.9 L1358.6 265.1 L1359.6 257.9 L1360.5 263.5 L1361.5 272.4 L1362.4 274.8 L1363.4 263.0 L1364.3 260.1 L1365.3 265.5 L1366.2 269.2 L1367.2 246.1 L1368.1 261.7 L1369.1 262.7 L1370.0 266.7 L1371.0 272.9 L1371.9 262.1 L1372.9 259.5 L1373.8 273.8 L1374.8 265.8 L1375.7 267.5 L1376.7 270.9 L1377.6 266.2 L1378.6 265.4 L1379.5 306.8 L1380.5 273.0 L1381.4 269.5 L1382.4 274.3 L1383.3 264.7 L1384.3 265.3 L1385.2 266.1 L1386.2 253.1 L1387.1 260.3 L1388.1 259.9 L1389.0 261.0 L1390.0 263.7 L1390.9 275.7 L1391.9 271.2 L1392.8 268.0 L1393.8 260.2 L1394.7 265.1 L1395.7 264.5 L1396.6 263.5 L1397.6 273.2 L1398.5 274.9 L1399.5 264.5 L1400.4 260.0 L1401.4 270.1 L1402.3 273.5 L1403.3 268.0 L1404.2 276.5 L1405.2 261.4 L1406.1 271.9 L1407.1 263.4 L1408.0 271.4 L1409.0 281.1 L1409.9 266.8 L1410.9 274.8 L1411.8 272.3 L1412.8 265.4 L1413.7 274.8 L1414.7 267.7 L1415.6 262.1 L1416.6 266.3 L1417.5 269.5 L1418.5 264.8 L1419.4 270.0 L1420.4 272.7 L1421.3 276.6 L1422.3 266.5 L1423.2 264.5 L1424.2 265.6 L1425.1 272.0 L1426.1 283.7 L1427.0 269.3 L1428.0 269.8 L1428.9 271.2 L1429.9 272.2 L1430.8 275.4 L1431.8 263.2 L1432.7 277.8 L1433.7 260.3 L1434.6 272.5 L1435.6 272.8 L1436.5 273.1 L1437.5 276.8 L1438.4 278.0 L1439.4 277.9 L1440.3 267.8 L1441.3 273.6 L1442.2 270.4 L1443.2 266.0 L1444.1 271.9 L1445.1 265.6 L1446.0 272.8 L1447.0 275.0 L1447.9 266.9 L1448.9 275.2 L1449.8 276.6 L1450.8 278.0 L1451.7 280.8 L1452.7 284.1 L1453.6 277.3 L1454.6 269.5 L1455.5 271.5 L1456.5 262.4 L1457.4 264.7 L1458.4 268.4 L1459.3 268.4 L1460.3 288.8 L1461.2 269.1 L1462.2 266.8 L1463.1 275.6 L1464.1 279.9 L1465.0 277.0 L1466.0 267.8 L1466.9 262.9 L1467.9 275.8 L1468.8 269.4 L1469.8 272.5 L1470.7 268.9 L1471.7 267.9 L1472.6 263.6 L1473.6 266.6 L1474.5 272.7 L1475.5 273.6 L1476.4 271.5 L1477.4 265.9 L1478.3 265.4 L1479.3 302.1 L1480.2 313.0 L1481.2 312.7 L1482.1 311.9 L1483.1 276.3 L1484.0 267.2 L1485.0 278.9 L1485.9 273.1 L1486.9 265.6 L1487.8 277.5 L1488.8 273.2 L1489.7 261.6 L1490.7 264.0 L1491.6 268.2 L1492.6 271.1 L1493.5 273.9 L1494.5 270.0 L1495.4 269.3 L1496.4 274.3 L1497.3 272.1 L1498.3 278.2 L1499.2 265.9 L1500.2 271.3 L1501.1 274.4 L1502.1 269.9 L1503.0 271.6 L1504.0 269.8 L1504.9 264.9 L1505.9 269.8 L1506.8 274.6 L1507.8 274.1 L1508.7 277.0 L1509.7 267.6 L1510.6 271.6 L1511.6 269.0 L1512.5 270.9 L1513.5 265.6 L1514.4 271.5 L1515.4 275.7 L1516.3 271.4 L1517.3 268.6 L1518.2 269.0 L1519.2 264.1 L1520.1 266.4 L1521.1 271.8 L1522.0 269.8 L1523.0 297.7 L1523.9 312.8 L1524.9 308.1 L1525.8 313.2 L1526.8 266.6 L1527.7 270.0 L1528.7 264.5 L1529.6 266.8 L1530.6 272.1 L1531.5 266.2 L1532.5 268.0 L1533.4 265.4 L1534.4 265.0 L1535.3 258.8 L1536.3 267.6 L1537.2 264.2 L1538.2 273.5 L1539.1 274.6 L1540.1 269.8 L1541.0 274.2 L1542.0 268.9 L1542.9 275.7 L1543.9 279.7 L1544.8 271.9 L1545.8 269.1 L1546.7 260.4 L1547.7 268.9 L1548.6 272.1 L1549.6 269.4 L1550.5 268.3 L1551.5 267.0 L1552.4 276.3 L1553.4 275.6 L1554.3 275.5 L1555.3 274.1 L1556.2 268.0 L1557.2 261.7 L1558.1 264.5 L1559.1 274.0 L1560.0 268.1 L1561.0 274.1 L1561.9 275.8 L1562.9 270.9 L1563.8 296.0 L1564.8 273.2 L1565.7 276.9 L1566.7 268.3 L1567.6 273.7 L1568.6 268.2 L1569.5 263.6 L1570.5 259.6 L1571.4 274.3 L1572.4 273.5 L1573.3 265.8 L1574.3 271.6 L1575.2 268.1 L1576.2 268.6 L1577.1 268.9 L1578.1 271.3 L1579.0 283.5 L1580.0 282.2 L1580.9 271.3 L1581.9 275.5 L1582.8 269.1 L1583.8 270.6 L1584.7 268.9 L1585.7 268.3 L1586.6 272.4 L1587.6 276.2 L1588.5 267.3 L1589.5 269.7 L1590.4 282.4 L1591.4 266.9 L1592.3 268.1 L1593.3 264.1 L1594.2 267.8 L1595.2 259.0 L1596.1 261.4 L1597.1 270.3 L1598.0 261.8 L1599.0 274.3 L1599.9 262.9 L1600.9 268.5 L1601.8 273.6 L1602.8 272.4 L1603.7 270.3 L1604.7 264.2 L1605.6 271.1 L1606.6 266.0 L1607.5 273.6 L1608.5 279.8 L1609.4 266.9 L1610.4 274.6 L1611.3 269.7 L1612.3 276.5 L1613.2 275.3 L1614.2 274.3 L1615.1 271.7 L1616.1 269.5 L1617.0 270.3 L1618.0 262.4 L1618.9 276.9 L1619.9 282.1 L1620.8 272.8 L1621.8 264.9 L1622.7 265.6 L1623.7 269.4 L1624.6 259.9 L1625.6 266.2 L1626.5 268.2 L1627.5 268.5 L1628.4 270.4 L1629.4 272.9 L1630.3 278.1 L1631.3 265.4 L1632.2 275.4 L1633.2 269.7 L1634.1 262.3 L1635.1 273.3 L1636.0 276.2 L1637.0 275.5 L1637.9 270.0 L1638.9 253.6 L1639.8 270.7 L1640.8 269.2 L1641.7 256.4 L1642.7 264.8 L1643.6 268.7 L1644.6 267.6 L1645.5 273.5 L1646.5 251.8 L1647.4 269.8 L1648.4 256.4 L1649.3 268.3 L1650.3 259.5 L1651.2 273.7 L1652.2 267.7 L1653.1 265.0 L1654.1 277.3 L1655.0 304.0 L1656.0 316.5 L1656.9 317.3 L1657.9 317.2 L1658.8 316.2 L1659.8 316.1 L1660.7 267.4 L1661.7 272.8 L1662.6 266.2 L1663.6 278.5 L1664.5 269.4 L1665.5 272.3 L1666.4 268.7 L1667.4 273.4 L1668.3 270.6 L1669.3 271.3 L1670.2 268.0 L1671.2 273.0 L1672.1 271.3 L1673.1 271.7 L1674.0 271.3 L1675.0 267.7 L1675.9 273.6 L1676.9 269.5 L1677.8 267.7 L1678.8 271.2 L1679.7 267.6 L1680.7 276.8 L1681.6 272.5 L1682.6 270.6 L1683.5 262.3 L1684.5 265.9 L1685.4 267.4 L1686.4 274.2 L1687.3 271.6 L1688.3 268.6 L1689.2 269.1 L1690.2 265.4 L1691.1 268.7 L1692.1 267.9 L1693.0 271.8 L1694.0 266.0 L1694.9 260.1 L1695.9 264.6 L1696.8 268.8 L1697.8 269.8 L1698.7 268.1 L1699.7 299.9 L1700.6 312.5 L1701.6 311.9 L1702.5 268.8 L1703.5 283.1 L1704.4 270.0 L1705.4 271.3 L1706.3 271.0 L1707.3 268.3 L1708.2 263.8 L1709.2 270.7 L1710.1 280.8 L1711.1 268.4 L1712.0 277.1 L1713.0 273.4 L1713.9 271.0 L1714.9 268.0 L1715.8 272.0 L1716.8 273.5 L1717.7 282.0 L1718.7 270.5 L1719.6 269.0 L1720.6 276.2 L1721.5 273.2 L1722.5 271.7 L1723.4 274.2 L1724.4 268.6 L1725.3 271.4 L1726.3 276.7 L1727.2 252.0 L1728.2 265.0 L1729.1 281.8 L1730.1 278.5 L1731.0 269.8 L1732.0 260.5 L1732.9 270.0 L1733.9 273.8 L1734.8 273.7 L1735.8 237.6 L1736.7 219.6 L1737.7 226.2 L1738.6 211.0 L1739.6 261.0 L1740.5 247.2 L1741.5 241.2 L1742.4 230.3 L1743.4 269.8 L1744.3 214.7 L1745.3 239.6 L1746.2 265.0 L1747.2 244.9 L1748.1 243.1 L1749.1 230.3 L1750.0 247.0 L1751.0 242.0 L1751.9 270.0 L1752.9 269.5 L1753.8 242.1 L1754.8 217.8 L1755.7 246.2 L1756.7 225.2 L1757.6 261.7 L1758.6 218.0 L1759.5 256.1 L1760.5 216.7 L1761.4 216.8 L1762.4 275.6 L1763.3 223.5 L1764.3 253.5 L1765.2 264.0 L1766.2 258.7 L1767.1 244.2 L1768.1 223.9 L1769.0 258.5 L1770.0 254.1 L1770.9 226.3 L1771.9 249.4 L1772.8 242.1 L1773.8 259.1 L1774.7 212.4 L1775.7 236.1 L1776.6 236.6 L1777.6 247.5 L1778.5 243.6 L1779.5 249.8 L1780.4 252.1 L1781.4 258.2 L1782.3 286.5 L1783.3 260.9 L1784.2 262.8 L1785.2 252.0 L1786.1 272.0 L1787.1 250.1 L1788.0 214.7 L1789.0 231.0 L1789.9 243.2 L1790.9 266.6 L1791.8 247.7 L1792.8 270.1 L1793.7 257.6 L1794.7 257.0 L1795.6 195.7 L1796.6 216.5 L1797.5 236.5 L1798.5 228.3 L1799.4 245.9 L1800.4 252.0 L1801.3 241.2 L1802.3 253.4 L1803.2 268.4 L1804.2 265.1 L1805.1 218.7 L1806.1 222.3" fill="none" stroke="#F2CC0C" stroke-width="0.8" stroke-opacity="0.9" stroke-linejoin="round"/>
<path d="M1123.0 219.5 L1124.0 230.2 L1124.9 299.7 L1125.9 236.6 L1126.8 234.9 L1127.8 231.9 L1128.7 259.2 L1129.7 216.9 L1130.6 232.0 L1131.6 228.7 L1132.5 215.8 L1133.5 234.7 L1134.4 243.4 L1135.4 219.0 L1136.3 222.2 L1137.3 255.0 L1138.2 230.2 L1139.2 237.4 L1140.1 220.8 L1141.1 220.8 L1142.0 262.0 L1143.0 258.1 L1143.9 246.1 L1144.9 232.1 L1145.8 226.8 L1146.8 219.0 L1147.7 249.0 L1148.7 242.2 L1149.6 249.3 L1150.6 222.3 L1151.5 293.7 L1152.5 247.6 L1153.4 255.4 L1154.4 236.9 L1155.3 263.0 L1156.3 235.0 L1157.2 249.3 L1158.2 255.1 L1159.1 227.1 L1160.1 231.0 L1161.0 313.1 L1162.0 310.3 L1162.9 249.3 L1163.9 240.0 L1164.8 221.2 L1165.8 211.9 L1166.7 229.9 L1167.7 243.4 L1168.6 232.2 L1169.6 263.5 L1170.5 233.4 L1171.5 245.7 L1172.4 223.0 L1173.4 221.0 L1174.3 219.6 L1175.3 238.2 L1176.2 219.7 L1177.2 238.0 L1178.1 259.2 L1179.1 243.3 L1180.0 229.7 L1181.0 213.7 L1181.9 236.1 L1182.9 225.2 L1183.8 237.4 L1184.8 226.1 L1185.7 218.4 L1186.7 259.9 L1187.6 258.6 L1188.6 251.5 L1189.5 247.3 L1190.5 256.7 L1191.4 261.8 L1192.4 267.0 L1193.3 262.0 L1194.3 267.1 L1195.2 255.7 L1196.2 254.8 L1197.1 263.4 L1198.1 264.3 L1199.0 253.0 L1200.0 240.8 L1200.9 264.2 L1201.9 232.4 L1202.8 252.3 L1203.8 254.3 L1204.7 264.5 L1205.7 261.8 L1206.6 255.1 L1207.6 248.1 L1208.5 254.8 L1209.5 249.0 L1210.4 259.8 L1211.4 255.8 L1212.3 259.5 L1213.3 256.0 L1214.2 253.7 L1215.2 253.1 L1216.1 248.9 L1217.1 252.4 L1218.0 256.5 L1219.0 244.3 L1219.9 247.9 L1220.9 249.6 L1221.8 259.8 L1222.8 259.8 L1223.7 257.1 L1224.7 256.4 L1225.6 253.1 L1226.6 258.3 L1227.5 256.0 L1228.5 245.4 L1229.4 249.6 L1230.4 253.8 L1231.3 254.0 L1232.3 252.8 L1233.2 237.4 L1234.2 249.6 L1235.1 262.4 L1236.1 259.2 L1237.0 251.8 L1238.0 256.1 L1238.9 259.8 L1239.9 251.5 L1240.8 223.1 L1241.8 249.1 L1242.7 257.6 L1243.7 255.5 L1244.6 254.5 L1245.6 253.8 L1246.5 258.7 L1247.5 254.1 L1248.4 257.7 L1249.4 245.5 L1250.3 256.3 L1251.3 255.1 L1252.2 263.1 L1253.2 253.6 L1254.1 249.5 L1255.1 242.0 L1256.0 249.2 L1257.0 265.0 L1257.9 257.2 L1258.9 235.7 L1259.8 247.8 L1260.8 244.0 L1261.7 249.2 L1262.7 259.6 L1263.6 243.9 L1264.6 250.2 L1265.5 254.0 L1266.5 252.4 L1267.4 245.2 L1268.4 250.2 L1269.3 223.8 L1270.3 251.2 L1271.2 242.1 L1272.2 243.5 L1273.1 244.2 L1274.1 258.4 L1275.0 256.4 L1276.0 250.4 L1276.9 248.5 L1277.9 245.7 L1278.8 250.6 L1279.8 246.8 L1280.7 248.1 L1281.7 256.0 L1282.6 252.6 L1283.6 253.3 L1284.5 250.7 L1285.5 299.6 L1286.4 318.5 L1287.4 317.8 L1288.3 318.5 L1289.3 316.4 L1290.2 262.5 L1291.2 232.9 L1292.1 259.3 L1293.1 259.0 L1294.0 257.2 L1295.0 252.9 L1295.9 259.8 L1296.9 252.5 L1297.8 241.5 L1298.8 265.0 L1299.7 268.3 L1300.7 257.1 L1301.6 256.9 L1302.6 261.3 L1303.5 265.3 L1304.5 252.1 L1305.4 246.7 L1306.4 251.5 L1307.3 259.5 L1308.3 257.1 L1309.2 257.4 L1310.2 256.2 L1311.1 258.7 L1312.1 249.5 L1313.0 253.1 L1314.0 263.2 L1314.9 253.8 L1315.9 253.1 L1316.8 261.1 L1317.8 260.3 L1318.7 253.5 L1319.7 257.2 L1320.6 249.0 L1321.6 252.4 L1322.5 261.0 L1323.5 256.8 L1324.4 254.2 L1325.4 249.8 L1326.3 249.7 L1327.3 264.8 L1328.2 293.1 L1329.2 244.2 L1330.1 254.8 L1331.1 264.5 L1332.0 300.6 L1333.0 312.0 L1333.9 312.7 L1334.9 258.4 L1335.8 259.6 L1336.8 255.6 L1337.7 258.7 L1338.7 264.7 L1339.6 256.2 L1340.6 257.6 L1341.5 264.1 L1342.5 266.8 L1343.4 254.8 L1344.4 254.2 L1345.3 261.6 L1346.3 261.2 L1347.2 257.1 L1348.2 256.4 L1349.1 269.5 L1350.1 261.0 L1351.0 265.6 L1352.0 272.4 L1352.9 262.9 L1353.9 267.0 L1354.8 257.5 L1355.8 253.7 L1356.7 257.4 L1357.7 258.5 L1358.6 261.2 L1359.6 258.9 L1360.5 252.1 L1361.5 263.1 L1362.4 257.1 L1363.4 258.5 L1364.3 256.7 L1365.3 261.5 L1366.2 260.9 L1367.2 258.5 L1368.1 262.3 L1369.1 264.2 L1370.0 258.1 L1371.0 264.9 L1371.9 264.5 L1372.9 264.9 L1373.8 265.2 L1374.8 257.1 L1375.7 259.8 L1376.7 260.0 L1377.6 259.1 L1378.6 263.9 L1379.5 265.9 L1380.5 258.0 L1381.4 262.7 L1382.4 265.0 L1383.3 269.3 L1384.3 267.9 L1385.2 260.4 L1386.2 263.6 L1387.1 266.6 L1388.1 267.5 L1389.0 269.6 L1390.0 272.1 L1390.9 265.1 L1391.9 251.4 L1392.8 261.6 L1393.8 265.1 L1394.7 255.2 L1395.7 262.4 L1396.6 258.9 L1397.6 263.7 L1398.5 259.7 L1399.5 265.5 L1400.4 261.9 L1401.4 265.3 L1402.3 262.4 L1403.3 270.3 L1404.2 272.1 L1405.2 265.5 L1406.1 245.1 L1407.1 238.9 L1408.0 264.1 L1409.0 263.2 L1409.9 269.6 L1410.9 275.3 L1411.8 270.1 L1412.8 258.1 L1413.7 266.8 L1414.7 268.3 L1415.6 268.2 L1416.6 270.9 L1417.5 261.0 L1418.5 267.7 L1419.4 269.9 L1420.4 267.5 L1421.3 270.9 L1422.3 250.9 L1423.2 260.1 L1424.2 272.2 L1425.1 272.3 L1426.1 269.7 L1427.0 271.5 L1428.0 262.7 L1428.9 267.9 L1429.9 266.6 L1430.8 258.4 L1431.8 268.2 L1432.7 266.6 L1433.7 261.2 L1434.6 260.5 L1435.6 270.9 L1436.5 264.5 L1437.5 264.2 L1438.4 257.8 L1439.4 258.8 L1440.3 268.5 L1441.3 266.2 L1442.2 273.0 L1443.2 241.5 L1444.1 272.5 L1445.1 264.4 L1446.0 267.8 L1447.0 258.6 L1447.9 267.9 L1448.9 261.7 L1449.8 253.1 L1450.8 263.1 L1451.7 265.7 L1452.7 268.4 L1453.6 268.1 L1454.6 268.5 L1455.5 268.2 L1456.5 263.7 L1457.4 268.0 L1458.4 271.1 L1459.3 302.3 L1460.3 314.8 L1461.2 314.7 L1462.2 314.4 L1463.1 275.8 L1464.1 267.6 L1465.0 271.3 L1466.0 257.8 L1466.9 270.9 L1467.9 270.2 L1468.8 266.2 L1469.8 268.4 L1470.7 264.6 L1471.7 263.9 L1472.6 263.8 L1473.6 264.3 L1474.5 264.3 L1475.5 263.5 L1476.4 268.0 L1477.4 266.6 L1478.3 269.9 L1479.3 271.5 L1480.2 266.5 L1481.2 261.9 L1482.1 261.4 L1483.1 264.0 L1484.0 268.7 L1485.0 258.3 L1485.9 268.3 L1486.9 261.4 L1487.8 267.0 L1488.8 262.8 L1489.7 263.3 L1490.7 261.2 L1491.6 263.3 L1492.6 300.0 L1493.5 263.3 L1494.5 271.5 L1495.4 271.2 L1496.4 264.0 L1497.3 273.3 L1498.3 267.7 L1499.2 270.3 L1500.2 259.5 L1501.1 274.3 L1502.1 277.9 L1503.0 270.8 L1504.0 269.4 L1504.9 260.4 L1505.9 260.9 L1506.8 296.4 L1507.8 312.9 L1508.7 312.0 L1509.7 269.3 L1510.6 268.7 L1511.6 258.4 L1512.5 258.7 L1513.5 252.2 L1514.4 266.1 L1515.4 270.6 L1516.3 263.2 L1517.3 261.6 L1518.2 258.9 L1519.2 273.2 L1520.1 268.4 L1521.1 262.5 L1522.0 260.3 L1523.0 253.8 L1523.9 263.0 L1524.9 267.2 L1525.8 266.9 L1526.8 262.1 L1527.7 263.1 L1528.7 266.9 L1529.6 271.3 L1530.6 268.5 L1531.5 271.6 L1532.5 270.8 L1533.4 266.3 L1534.4 263.0 L1535.3 262.4 L1536.3 256.0 L1537.2 264.2 L1538.2 257.0 L1539.1 265.8 L1540.1 267.0 L1541.0 277.8 L1542.0 268.7 L1542.9 256.3 L1543.9 259.7 L1544.8 263.0 L1545.8 248.1 L1546.7 260.9 L1547.7 273.8 L1548.6 299.8 L1549.6 263.0 L1550.5 267.8 L1551.5 263.4 L1552.4 267.4 L1553.4 265.5 L1554.3 267.0 L1555.3 244.5 L1556.2 275.6 L1557.2 263.2 L1558.1 278.4 L1559.1 266.0 L1560.0 268.3 L1561.0 267.3 L1561.9 273.8 L1562.9 261.8 L1563.8 272.5 L1564.8 271.0 L1565.7 261.4 L1566.7 267.3 L1567.6 269.4 L1568.6 262.8 L1569.5 267.0 L1570.5 261.9 L1571.4 245.4 L1572.4 274.1 L1573.3 268.0 L1574.3 228.6 L1575.2 273.3 L1576.2 261.1 L1577.1 258.6 L1578.1 266.2 L1579.0 266.4 L1580.0 268.5 L1580.9 266.3 L1581.9 270.2 L1582.8 269.6 L1583.8 259.9 L1584.7 264.3 L1585.7 258.5 L1586.6 260.8 L1587.6 261.1 L1588.5 263.8 L1589.5 264.4 L1590.4 270.4 L1591.4 267.3 L1592.3 260.2 L1593.3 265.7 L1594.2 260.5 L1595.2 261.8 L1596.1 257.3 L1597.1 265.1 L1598.0 267.2 L1599.0 266.6 L1599.9 259.2 L1600.9 267.6 L1601.8 273.0 L1602.8 278.2 L1603.7 272.7 L1604.7 268.6 L1605.6 279.5 L1606.6 264.4 L1607.5 270.4 L1608.5 269.3 L1609.4 272.8 L1610.4 266.9 L1611.3 256.5 L1612.3 258.2 L1613.2 265.4 L1614.2 268.7 L1615.1 266.0 L1616.1 259.7 L1617.0 269.0 L1618.0 285.3 L1618.9 268.2 L1619.9 261.8 L1620.8 267.1 L1621.8 264.4 L1622.7 256.9 L1623.7 259.9 L1624.6 263.2 L1625.6 273.7 L1626.5 268.3 L1627.5 257.8 L1628.4 263.2 L1629.4 266.7 L1630.3 268.7 L1631.3 279.3 L1632.2 266.4 L1633.2 260.9 L1634.1 304.8 L1635.1 313.1 L1636.0 316.0 L1637.0 316.1 L1637.9 312.7 L1638.9 266.4 L1639.8 265.8 L1640.8 257.2 L1641.7 284.6 L1642.7 264.4 L1643.6 267.2 L1644.6 266.5 L1645.5 264.0 L1646.5 264.8 L1647.4 262.1 L1648.4 262.8 L1649.3 252.1 L1650.3 254.9 L1651.2 260.4 L1652.2 255.6 L1653.1 264.1 L1654.1 259.0 L1655.0 256.6 L1656.0 269.3 L1656.9 260.9 L1657.9 269.5 L1658.8 265.7 L1659.8 262.1 L1660.7 263.1 L1661.7 264.4 L1662.6 264.2 L1663.6 264.7 L1664.5 262.5 L1665.5 266.6 L1666.4 267.1 L1667.4 252.0 L1668.3 258.1 L1669.3 262.7 L1670.2 264.9 L1671.2 269.7 L1672.1 264.6 L1673.1 258.9 L1674.0 259.5 L1675.0 270.3 L1675.9 266.4 L1676.9 266.5 L1677.8 261.3 L1678.8 264.2 L1679.7 271.6 L1680.7 293.9 L1681.6 312.5 L1682.6 313.5 L1683.5 312.8 L1684.5 257.2 L1685.4 264.0 L1686.4 263.5 L1687.3 265.1 L1688.3 267.9 L1689.2 261.8 L1690.2 266.8 L1691.1 265.4 L1692.1 261.0 L1693.0 254.4 L1694.0 260.4 L1694.9 266.2 L1695.9 266.9 L1696.8 270.2 L1697.8 266.0 L1698.7 266.6 L1699.7 269.6 L1700.6 265.3 L1701.6 261.4 L1702.5 272.2 L1703.5 257.1 L1704.4 263.9 L1705.4 256.9 L1706.3 266.6 L1707.3 264.9 L1708.2 272.6 L1709.2 268.2 L1710.1 267.2 L1711.1 269.6 L1712.0 262.8 L1713.0 264.5 L1713.9 275.1 L1714.9 266.5 L1715.8 266.9 L1716.8 258.4 L1717.7 263.8 L1718.7 271.6 L1719.6 265.8 L1720.6 264.3 L1721.5 262.3 L1722.5 262.6 L1723.4 266.4 L1724.4 263.7 L1725.3 265.6 L1726.3 269.3 L1727.2 263.7 L1728.2 267.9 L1729.1 259.1 L1730.1 307.3 L1731.0 263.0 L1732.0 267.6 L1732.9 263.9 L1733.9 240.7 L1734.8 249.2 L1735.8 229.2 L1736.7 256.0 L1737.7 221.7 L1738.6 254.4 L1739.6 269.1 L1740.5 199.7 L1741.5 230.9 L1742.4 262.4 L1743.4 217.2 L1744.3 262.2 L1745.3 206.3 L1746.2 216.7 L1747.2 214.6 L1748.1 228.6 L1749.1 240.5 L1750.0 291.7 L1751.0 256.6 L1751.9 259.0 L1752.9 257.1 L1753.8 231.4 L1754.8 218.6 L1755.7 241.6 L1756.7 245.2 L1757.6 235.6 L1758.6 199.8 L1759.5 270.7 L1760.5 246.7 L1761.4 262.5 L1762.4 213.8 L1763.3 255.8 L1764.3 271.4 L1765.2 271.5 L1766.2 259.6 L1767.1 245.4 L1768.1 248.7 L1769.0 241.1 L1770.0 229.0 L1770.9 241.9 L1771.9 217.0 L1772.8 234.0 L1773.8 258.3 L1774.7 265.1 L1775.7 168.1 L1776.6 221.0 L1777.6 246.3 L1778.5 219.7 L1779.5 217.7 L1780.4 269.0 L1781.4 222.7 L1782.3 211.5 L1783.3 244.6 L1784.2 231.7 L1785.2 254.6 L1786.1 236.2 L1787.1 220.1 L1788.0 261.5 L1789.0 216.6 L1789.9 236.7 L1790.9 249.3 L1791.8 269.7 L1792.8 227.3 L1793.7 262.1 L1794.7 255.7 L1795.6 232.9 L1796.6 235.7 L1797.5 262.8 L1798.5 208.3 L1799.4 200.7 L1800.4 201.6 L1801.3 214.8 L1802.3 210.0 L1803.2 224.2 L1804.2 259.5 L1805.1 219.1 L1806.1 228.6" fill="none" stroke="#8AB8FF" stroke-width="0.8" stroke-opacity="0.9" stroke-linejoin="round"/>
</svg>
<div class="ax yl" style="left:932.6px;top:146px;">0.020</div>
<div class="ax yl" style="left:932.6px;top:193px;">0.015</div>
<div class="ax yl" style="left:932.6px;top:239px;">0.010</div>
<div class="ax yl" style="left:932.6px;top:286px;">0.005</div>
<div class="ax yl" style="left:932.6px;top:332px;">0.000</div>
<div class="ax xl" style="left:944.2px;top:347px;width:60px;text-align:center;">10:00</div>
<div class="ax xl" style="left:1013.7px;top:347px;width:60px;text-align:center;">12:00</div>
<div class="ax xl" style="left:1083.1px;top:347px;width:60px;text-align:center;">14:00</div>
<div class="ax xl" style="left:1152.6px;top:347px;width:60px;text-align:center;">16:00</div>
<div class="ax xl" style="left:1222.0px;top:347px;width:60px;text-align:center;">18:00</div>
<div class="ax xl" style="left:1291.5px;top:347px;width:60px;text-align:center;">20:00</div>
<div class="ax xl" style="left:1360.9px;top:347px;width:60px;text-align:center;">22:00</div>
<div class="ax xl" style="left:1430.4px;top:347px;width:60px;text-align:center;">00:00</div>
<div class="ax xl" style="left:1499.8px;top:347px;width:60px;text-align:center;">02:00</div>
<div class="ax xl" style="left:1569.2px;top:347px;width:60px;text-align:center;">04:00</div>
<div class="ax xl" style="left:1638.7px;top:347px;width:60px;text-align:center;">06:00</div>
<div class="ax xl" style="left:1708.2px;top:347px;width:60px;text-align:center;">08:00</div>
<div class="a" style="left:948px;top:371px;width:14px;height:4px;border-radius:1px;background:#73BF69;"></div>
<div class="ax lg" style="left:970px;top:367px;letter-spacing:0.17px;">10.42.0.11:3000</div>
<div class="a" style="left:1069px;top:371px;width:14px;height:4px;border-radius:1px;background:#F2CC0C;"></div>
<div class="ax lg" style="left:1091px;top:367px;letter-spacing:0.17px;">10.42.0.13:3000</div>
<div class="a" style="left:1190px;top:371px;width:14px;height:4px;border-radius:1px;background:#8AB8FF;"></div>
<div class="ax lg" style="left:1212px;top:367px;letter-spacing:0.17px;">10.42.0.12:3000</div>
<svg style="left:0;top:0" width="1835" height="811" viewBox="0 0 1835 811">
<path d="M42.6 573.5 L162.0 573.5 L162.0 732.5 L42.6 732.5 Z" fill="#391820" stroke="none"/>
<path d="M42.6 573.5 L162.0 573.5" fill="none" stroke="#C4162A" stroke-width="1" stroke-opacity="0.8"/>
<path d="M191.6 573.5 L311.0 573.5 L311.0 732.5 L191.6 732.5 Z" fill="#391820" stroke="none"/>
<path d="M191.6 573.5 L311.0 573.5" fill="none" stroke="#C4162A" stroke-width="1" stroke-opacity="0.8"/>
<path d="M340.6 573.5 L460.0 573.5 L460.0 732.5 L340.6 732.5 Z" fill="#391820" stroke="none"/>
<path d="M340.6 573.5 L460.0 573.5" fill="none" stroke="#C4162A" stroke-width="1" stroke-opacity="0.8"/>
<text x="28" y="567.5" font-family="'Liberation Sans', sans-serif" font-weight="bold" font-size="71.5" fill="#C4162A">1</text>
<text x="177" y="567.5" font-family="'Liberation Sans', sans-serif" font-weight="bold" font-size="71.5" fill="#C4162A">1</text>
<text x="326" y="567.5" font-family="'Liberation Sans', sans-serif" font-weight="bold" font-size="71.5" fill="#C4162A">1</text>
</svg>
<div class="lbl" style="left:27.7px;top:484px;">10.42.0.11:3000</div>
<div class="lbl" style="left:176.7px;top:484px;">10.42.0.13:3000</div>
<div class="lbl" style="left:325.7px;top:484px;">10.42.0.12:3000</div>
<svg style="left:0;top:0" width="1835" height="811" viewBox="0 0 1835 811">
<path d="M496.6 731.6 L616.0 731.6" fill="none" stroke="#E0AC2A" stroke-width="1" stroke-opacity="0.55"/>
<path d="M645.6 731.6 L765.0 731.6" fill="none" stroke="#E0AC2A" stroke-width="1" stroke-opacity="0.55"/>
<path d="M794.6 731.6 L914.0 731.6" fill="none" stroke="#E0AC2A" stroke-width="1" stroke-opacity="0.55"/>
<text x="482" y="567.5" font-family="'Liberation Sans', sans-serif" font-weight="bold" font-size="71.5" fill="#E0AC2A">0</text>
<text x="631" y="567.5" font-family="'Liberation Sans', sans-serif" font-weight="bold" font-size="71.5" fill="#E0AC2A">0</text>
<text x="780" y="567.5" font-family="'Liberation Sans', sans-serif" font-weight="bold" font-size="71.5" fill="#E0AC2A">0</text>
</svg>
<div class="lbl" style="left:481.7px;top:484px;">10.42.0.11:3000</div>
<div class="lbl" style="left:630.7px;top:484px;">10.42.0.13:3000</div>
<div class="lbl" style="left:779.7px;top:484px;">10.42.0.12:3000</div>
<svg style="left:0;top:0" width="1835" height="811" viewBox="0 0 1835 811">
<path d="M951.0 731.6 L954.6 731.6 L954.6 649.5 L959.5 649.5 L959.5 568.5 L1069.8 568.5 L1069.8 732.5 L951.0 732.5 Z" fill="#2e1e3a" stroke="none"/>
<path d="M951.0 731.6 L954.6 731.6 L954.6 649.5 L959.5 649.5 L959.5 568.5 L1069.8 568.5" fill="none" stroke="#8933ad" stroke-width="1" stroke-opacity="0.8"/>
<path d="M1099.7 731.6 L1211.6 731.6 L1211.6 649.5 L1218.6 649.5 L1218.6 732.5 L1099.7 732.5 Z" fill="#2e1e3a" stroke="none"/>
<path d="M1099.7 731.6 L1211.6 731.6 L1211.6 649.5 L1218.6 649.5" fill="none" stroke="#8933ad" stroke-width="1" stroke-opacity="0.8"/>
<path d="M1248.6 731.6 L1367.8 731.6" fill="none" stroke="#8933ad" stroke-width="1" stroke-opacity="0.8"/>
<text x="936" y="562.9" font-family="'Liberation Sans', sans-serif" font-weight="bold" font-size="67.2" fill="#8933ad">2</text>
<text x="1085" y="562.9" font-family="'Liberation Sans', sans-serif" font-weight="bold" font-size="67.2" fill="#8933ad">1</text>
<text x="1234" y="562.9" font-family="'Liberation Sans', sans-serif" font-weight="bold" font-size="67.2" fill="#8933ad">0</text>
</svg>
<div class="lbl" style="left:935.7px;top:484px;">10.42.0.11:3000</div>
<div class="lbl" style="left:1084.7px;top:484px;">10.42.0.13:3000</div>
<div class="lbl" style="left:1233.7px;top:484px;">10.42.0.12:3000</div>
<svg style="left:0;top:0" width="1835" height="811" viewBox="0 0 1835 811">
<path d="M1404.5 731.6 L1404.5 588.8 L1516.7 588.8 L1516.7 573.5 L1523.8 573.5 L1523.8 732.5 L1404.5 732.5 Z" fill="#18243a" stroke="none"/>
<path d="M1404.5 731.6 L1404.5 588.8 L1516.7 588.8 L1516.7 573.5 L1523.8 573.5" fill="none" stroke="#1955b9" stroke-width="1" stroke-opacity="0.8"/>
<path d="M1553.7 731.6 L1557.5 731.6 L1557.5 716.1 L1562.3 716.1 L1562.3 700.4 L1672.6 700.4 L1672.6 732.5 L1553.7 732.5 Z" fill="#18243a" stroke="none"/>
<path d="M1553.7 731.6 L1557.5 731.6 L1557.5 716.1 L1562.3 716.1 L1562.3 700.4 L1672.6 700.4" fill="none" stroke="#1955b9" stroke-width="1" stroke-opacity="0.8"/>
<path d="M1702.6 731.6 L1821.8 731.6" fill="none" stroke="#1955b9" stroke-width="1" stroke-opacity="0.8"/>
<text x="1390" y="567.5" font-family="'Liberation Sans', sans-serif" font-weight="bold" font-size="71.5" fill="#1955b9">10</text>
<text x="1539" y="567.5" font-family="'Liberation Sans', sans-serif" font-weight="bold" font-size="71.5" fill="#1955b9">2</text>
<text x="1688" y="567.5" font-family="'Liberation Sans', sans-serif" font-weight="bold" font-size="71.5" fill="#1955b9">0</text>
</svg>
<div class="lbl" style="left:1389.7px;top:484px;">10.42.0.11:3000</div>
<div class="lbl" style="left:1538.7px;top:484px;">10.42.0.13:3000</div>
<div class="lbl" style="left:1687.7px;top:484px;">10.42.0.12:3000</div>
</div></body></html>
